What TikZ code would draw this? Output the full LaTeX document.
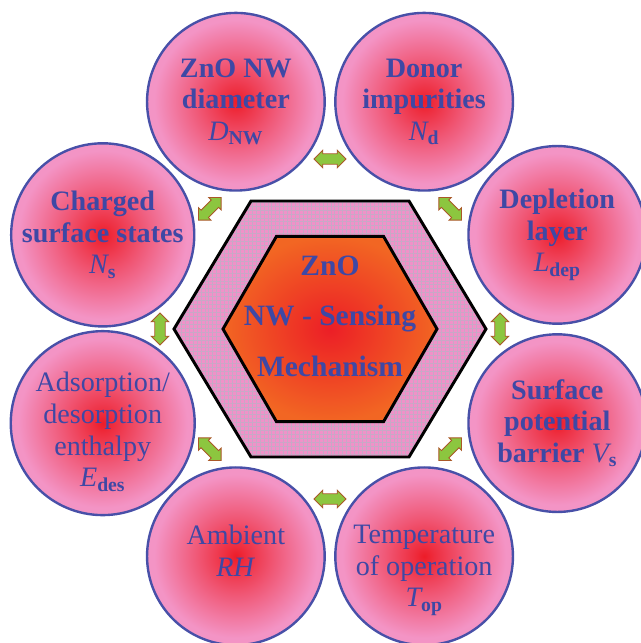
\documentclass[tikz,border=0pt]{standalone}
\usepackage{fontspec}
\setmainfont{Liberation Serif}
\usetikzlibrary{shapes,shapes.arrows,patterns.meta,positioning,calc}

\definecolor{ballPink}{RGB}{243,148,197}
\definecolor{ballRed}{RGB}{237,28,40}
\colorlet{ballMid}{ballRed!50!ballPink}
\colorlet{ballCore}{ballRed!85!ballPink}
\definecolor{ballBorder}{RGB}{72,80,168}
\definecolor{labelBlue}{RGB}{62,72,165}
\definecolor{hexPink}{RGB}{240,145,200}
\definecolor{hexGrid}{RGB}{200,168,198}
\definecolor{coreOrange}{RGB}{242,102,35}
\definecolor{coreRed}{RGB}{236,30,38}
\definecolor{arrowGreen}{RGB}{140,198,63}
\definecolor{arrowBrown}{RGB}{170,88,40}

\pgfdeclareradialshading{ballShade}{\pgfpoint{0bp}{0bp}}{%
  color(0bp)=(ballRed); color(3bp)=(ballCore); color(11bp)=(ballMid);
  color(23bp)=(ballPink); color(50bp)=(ballPink)}

\newcommand{\fsym}[2]{{\mdseries\itshape #1}\textsubscript{\bfseries\upshape #2}}
% move a block of lines inside its circle
\newcommand{\shiftlines}[2]{\raisebox{#1}[\height][\depth]{\begin{tabular}{@{}c@{}}#2\end{tabular}}}

\tikzset{
    factor/.style={
        ,   circle
        ,   minimum size=4.44cm % 180px incl. border
        ,   inner sep=0pt
        ,   draw=ballBorder
        ,   line width=1.7pt
        ,   shading=ballShade
        ,   text=labelBlue
        ,   align=center
        ,   font={\fontsize{20pt}{22.5pt}\selectfont\bfseries}
    },
    factorThin/.style={
        ,   factor
        ,   font={\fontsize{20pt}{22.5pt}\selectfont}
    },
    link/.style={
        ,   double arrow
        ,   draw=arrowBrown
        ,   fill=arrowGreen
        ,   line width=0.6pt
        ,   inner xsep=0pt
        ,   inner ysep=0.12cm
        ,   minimum height=0.8cm
        ,   minimum width=0.43cm
        ,   double arrow head extend=0.09cm
    },
    hexBand/.style={
        ,   preaction={fill=hexPink}
        ,   pattern={Hatch[angle=0,distance=2.8pt,line width=0.3pt]}
        ,   pattern color=hexGrid
        ,   draw=black
        ,   line width=2.1pt
        ,   line join=miter
    },
    core/.style={
        ,   regular polygon
        ,   regular polygon sides=6
        ,   minimum size=5.35cm
        ,   inner sep=0pt
        ,   draw=black
        ,   line width=2.1pt
        ,   inner color=coreRed
        ,   outer color=coreOrange
    },
    coreText/.style={
        ,   text=labelBlue
        ,   align=center
        ,   font={\fontsize{21pt}{36pt}\selectfont\bfseries}
    }
}

\begin{document}
\begin{tikzpicture}[x=0.025cm, y=0.025cm]
\useasboundingbox (-330,-314) rectangle (310,329);

% hexagon band
\coordinate (hexL) at (-156,0);
\coordinate (hexTL) at (-79,128);
\coordinate (hexTR) at (79,128);
\coordinate (hexR) at (156,0);
\coordinate (hexBR) at (79,-128);
\coordinate (hexBL) at (-79,-128);
\draw[hexBand] (hexL) -- (hexTL) -- (hexTR) -- (hexR) -- (hexBR) -- (hexBL) -- cycle;

\node[core] (core) at (0,0) {};
\node[coreText] (coreLabel) at (0,13) {ZnO\\NW - Sensing\\Mechanism};

% factors
\node[factor] (diameter) at (112.5:246) {ZnO NW\\diameter\\\fsym{D}{NW}};
\node[factor] (donor) at (67.5:246) {Donor\\impurities\\\fsym{N}{d}};
\node[factor] (depletion) at (22.5:246) {Depletion\\layer\\\fsym{L}{dep}};
\node[factor] (barrier) at (-22.5:246) {Surface\\potential\\barrier \fsym{V}{s}};
\node[factorThin] (temp) at (-67.5:246) {\shiftlines{-9pt}{Temperature\\of operation\\\fsym{T}{op}}};
\node[factorThin] (ambient) at (-112.5:246) {\shiftlines{1.5pt}{Ambient\\\textit{RH}}};
\node[factorThin] (enthalpy) at (-157.5:246) {\shiftlines{-7pt}{Adsorption/\\desorption\\enthalpy\\\fsym{E}{des}}};
\node[factor] (charged) at (157.5:246) {Charged\\surface states\\\fsym{N}{s}};

\foreach \a in {0,45,...,315}{
  \node[link, rotate=\a+90] (link\a) at (\a:170) {};
}
\end{tikzpicture}
\end{document}
